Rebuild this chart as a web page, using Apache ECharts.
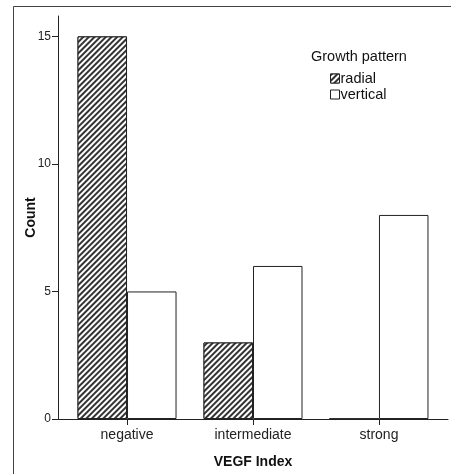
<!DOCTYPE html>
<html>
<head>
<meta charset="utf-8">
<script src="https://cdn.jsdelivr.net/npm/echarts@6/dist/echarts.min.js"></script>
<style>html,body{margin:0;padding:0;background:#fff;}#c{width:451px;height:474px;}</style>
</head>
<body>
<div id="c"></div>
<script>
var categories = ['negative', 'intermediate', 'strong'];
var radialCounts = [15, 3, 0];
var verticalCounts = [5, 6, 8];
var yTicks = [0, 5, 10, 15];
var seriesNames = ['radial', 'vertical'];

var FONT = 'Liberation Sans';
var chart = echarts.init(document.getElementById('c'), null, {renderer: 'canvas'});
var catIdx = categories.map(function (c, i) { return i; });
function toData(arr) { return arr.map(function (v, i) { return [i, v]; }); }

var option = {
  animation: false,
  backgroundColor: '#fff',
  textStyle: {fontFamily: FONT},
  title: {
    text: 'Growth pattern', left: 311, top: 49, padding: 0,
    textStyle: {fontFamily: FONT, fontSize: 14.5, fontWeight: 'normal', color: '#111'}
  },
  legend: {
    data: seriesNames, orient: 'vertical', left: 330, top: 71, padding: 0,
    itemWidth: 9, itemHeight: 9, itemGap: 1, icon: 'rect',
    itemStyle: {borderWidth: 1},
    textStyle: {fontFamily: FONT, fontSize: 14.5, color: '#111', padding: [0, 0, 0, -4]}
  },
  grid: {left: 58, right: 3, top: 16, bottom: 55, containLabel: false},
  xAxis: {
    type: 'value', min: -0.548, max: 2.548,
    name: 'VEGF Index', nameLocation: 'middle', nameGap: 36, nameMoveOverlap: false,
    nameTextStyle: {fontFamily: FONT, fontSize: 14, fontWeight: 'bold', color: '#111'},
    axisLine: {show: true, onZero: false, lineStyle: {color: '#222', width: 1}},
    axisTick: {show: true, customValues: catIdx, length: 6, lineStyle: {color: '#222'}},
    axisLabel: {customValues: catIdx, margin: 9, fontFamily: FONT, fontSize: 14, color: '#222',
      formatter: function (v) { return categories[Math.round(v)]; }},
    splitLine: {show: false}
  },
  yAxis: {
    type: 'value', min: 0, max: 15.8,
    name: 'Count', nameLocation: 'middle', nameGap: 20, nameMoveOverlap: false,
    nameTextStyle: {fontFamily: FONT, fontSize: 14, fontWeight: 'bold', color: '#111'},
    axisLine: {show: true, onZero: false, lineStyle: {color: '#222', width: 1}},
    axisTick: {show: true, customValues: yTicks, length: 6, lineStyle: {color: '#222'}},
    axisLabel: {customValues: yTicks, margin: 7, fontFamily: FONT, fontSize: 12, color: '#222'},
    splitLine: {show: false}
  },
  series: [
    {
      name: seriesNames[0], type: 'bar', barWidth: 49.5, barGap: '0%',
      data: toData(radialCounts),
      itemStyle: {
        color: '#fff', borderColor: '#222', borderWidth: 1,
        decal: {symbol: 'rect', dashArrayX: [[1, 0]], dashArrayY: [1.2, 1.6], rotation: -Math.PI / 4,
          color: '#333', backgroundColor: '#fff', symbolSize: 1}
      }
    },
    {
      name: seriesNames[1], type: 'bar', barWidth: 49.5, barGap: '0%',
      data: toData(verticalCounts),
      itemStyle: {color: '#fff', borderColor: '#222', borderWidth: 1}
    }
  ],
  graphic: [
    {type: 'line', shape: {x1: 13.5, y1: 6.5, x2: 451, y2: 6.5}, style: {stroke: '#444', lineWidth: 1}, silent: true},
    {type: 'line', shape: {x1: 13.5, y1: 6.5, x2: 13.5, y2: 474}, style: {stroke: '#444', lineWidth: 1}, silent: true}
  ]
};
chart.setOption(option);
</script>
</body>
</html>
